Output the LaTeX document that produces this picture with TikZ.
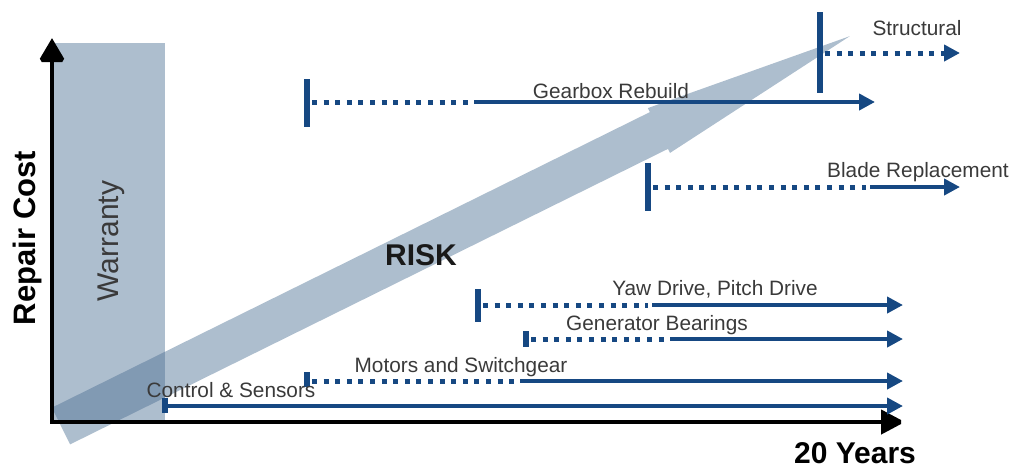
\documentclass[tikz,border=0pt]{standalone}
\usepackage{fontspec}
\setmainfont{Liberation Sans}
\usepackage{tikz}
\usetikzlibrary{arrows.meta}

\definecolor{riskblue}{RGB}{74,110,146}
\definecolor{linenavy}{RGB}{22,72,130}
\definecolor{labelgray}{RGB}{58,58,58}

\tikzset{
  rowbar/.style={draw=linenavy, line width=2.8pt},
  dotline/.style={draw=linenavy, line width=2.5pt, dash pattern=on 2.5pt off 3.3pt},
  fullline/.style={draw=linenavy, line width=2.3pt},
  tip/.style={-{Triangle[length=8pt,width=8pt]}},
  itemlabel/.style={text=labelgray, font=\fontsize{10.4}{12}\selectfont, anchor=base, inner sep=0pt},
  axislabel/.style={text=black, font=\bfseries\fontsize{15}{18}\selectfont, anchor=base, inner sep=0pt},
}

\begin{document}
\begin{tikzpicture}[x=0.5pt, y=-0.5pt]
  \useasboundingbox (0,0) rectangle (1012,468);

  % warranty period
  \fill[riskblue, opacity=0.45] (52,43) rectangle (165,422);
  \node (warranty) [rotate=90, anchor=base, inner sep=0pt, text=labelgray,
        font=\fontsize{15}{18}\selectfont] at (118,241) {Warranty};

  % risk arrow
  \begin{scope}[shift={(61,426)}, rotate=26.3]
    \fill[riskblue, opacity=0.45] (0,-20.5) -- (667,-20.5) -- (667,-25) -- (880,0)
      -- (667,25) -- (667,20.5) -- (0,20.5) -- cycle;
  \end{scope}
  \node (risk) [axislabel, text=black!90] at (421,265) {RISK};

  % axes
  \coordinate (origin) at (52,422);
  \coordinate (ytip) at (52,38);
  \coordinate (xtip) at (905,422);
  \draw[line width=2.2pt, miter limit=2,
        {Triangle[length=12pt,width=13.5pt]}-{Triangle[length=12pt,width=12pt]}]
        (ytip) -- (origin) -- (xtip);
  \node (ycap) [axislabel, rotate=90, font=\bfseries\fontsize{15.5}{18}\selectfont] at (35,238) {Repair Cost};
  \node (xcap) [axislabel] at (855,463) {20 Years};

  % structural
  \coordinate (stT) at (820,12);  \coordinate (stB) at (820,93);
  \coordinate (stS) at (825,53);  \coordinate (stE) at (960,53);
  \draw[rowbar] (stT) -- (stB);
  \draw[dotline, tip] (stS) -- (stE);
  \node (stL) [itemlabel] at (917,35) {Structural};

  % gearbox
  \coordinate (gbT) at (307,79);  \coordinate (gbB) at (307,127);
  \coordinate (gbS) at (312,102); \coordinate (gbM) at (470,102);
  \coordinate (gbN) at (474,102); \coordinate (gbE) at (875,102);
  \draw[rowbar] (gbT) -- (gbB);
  \draw[dotline] (gbS) -- (gbM);
  \draw[fullline, tip] (gbN) -- (gbE);
  \node (gbL) [itemlabel] at (611,98) {Gearbox Rebuild};

  % blades
  \coordinate (blT) at (648,163); \coordinate (blB) at (648,211);
  \coordinate (blS) at (653,187); \coordinate (blM) at (866,187);
  \coordinate (blN) at (870,187); \coordinate (blE) at (960,187);
  \draw[rowbar] (blT) -- (blB);
  \draw[dotline] (blS) -- (blM);
  \draw[fullline, tip] (blN) -- (blE);
  \node (blL) [itemlabel] at (918,177) {Blade Replacement};

  % yaw and pitch
  \coordinate (ywT) at (478,289); \coordinate (ywB) at (478,322);
  \coordinate (ywS) at (483,305); \coordinate (ywM) at (648,305);
  \coordinate (ywN) at (652,305); \coordinate (ywE) at (903,305);
  \draw[rowbar] (ywT) -- (ywB);
  \draw[dotline] (ywS) -- (ywM);
  \draw[fullline, tip] (ywN) -- (ywE);
  \node (ywL) [itemlabel] at (715,295) {Yaw Drive, Pitch Drive};

  % generator
  \coordinate (gnT) at (526,331); \coordinate (gnB) at (526,347);
  \coordinate (gnS) at (531,339); \coordinate (gnM) at (665,339);
  \coordinate (gnN) at (670,339); \coordinate (gnE) at (903,339);
  \draw[rowbar] (gnT) -- (gnB);
  \draw[dotline] (gnS) -- (gnM);
  \draw[fullline, tip] (gnN) -- (gnE);
  \node (gnL) [itemlabel] at (657,330) {Generator Bearings};

  % motors
  \coordinate (moT) at (307,372); \coordinate (moB) at (307,387);
  \coordinate (moS) at (312,381); \coordinate (moM) at (515,381);
  \coordinate (moN) at (520,381); \coordinate (moE) at (903,381);
  \draw[rowbar] (moT) -- (moB);
  \draw[dotline] (moS) -- (moM);
  \draw[fullline, tip] (moN) -- (moE);
  \node (moL) [itemlabel] at (461,372) {Motors and Switchgear};

  % control
  \coordinate (ctT) at (165,398); \coordinate (ctB) at (165,413);
  \coordinate (ctS) at (165,406); \coordinate (ctE) at (903,406);
  \draw[rowbar] (ctT) -- (ctB);
  \draw[fullline, tip] (ctS) -- (ctE);
  \node (ctL) [itemlabel] at (231,397) {Control \& Sensors};
\end{tikzpicture}
\end{document}
